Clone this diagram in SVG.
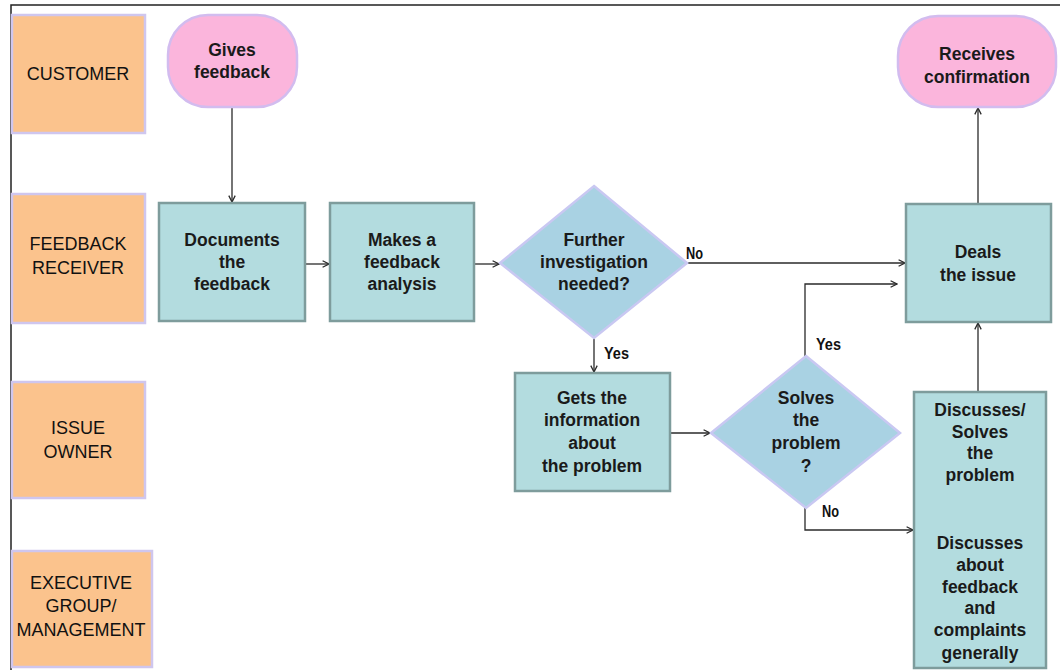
<svg xmlns="http://www.w3.org/2000/svg" width="1060" height="670" viewBox="0 0 1060 670">
  <style>
    .lane rect { fill: #fbc38d; stroke: #cfc6ee; stroke-width: 2.5; }
    .lane text { font-family: "Liberation Sans", Arial, sans-serif; font-size: 18px; fill: #111; text-anchor: middle; }
    .term rect { fill: #fbb5dc; stroke: #d2bcef; stroke-width: 2.5; }
    .proc rect { fill: #b3dcdf; stroke: #7e9c9c; stroke-width: 2.5; }
    .dec polygon { fill: #a9d2e3; stroke: #c9c8f2; stroke-width: 2.5; }
    .node text { font-family: "Liberation Sans", Arial, sans-serif; font-size: 17.5px; font-weight: bold; fill: #1a1a1a; text-anchor: middle; }
    .conn path { fill: none; stroke: #2a2a2a; stroke-width: 1.3; }
    .lbl { font-family: "Liberation Sans", Arial, sans-serif; font-size: 16px; font-weight: bold; fill: #111; }
  </style>
  <defs>
    <marker id="arr" viewBox="0 0 10 10" refX="9" refY="5" markerWidth="8" markerHeight="8" markerUnits="userSpaceOnUse" orient="auto">
      <path d="M1,1 L9,5 L1,9" fill="none" stroke="#2a2a2a" stroke-width="1.6"/>
    </marker>
  </defs>

  <rect width="1060" height="670" fill="#ffffff"/>
  <!-- page frame: top and left rules only -->
  <path d="M11,670 V5 H1060" fill="none" stroke="#222" stroke-width="1.5"/>

  <!-- swimlane headers -->
  <g id="lane-customer" class="lane">
    <rect x="12" y="15" width="133" height="118"/>
    <text x="78" y="80">CUSTOMER</text>
  </g>
  <g id="lane-feedback-receiver" class="lane">
    <rect x="12" y="194" width="133" height="129"/>
    <text x="78" y="250">FEEDBACK</text>
    <text x="78" y="274">RECEIVER</text>
  </g>
  <g id="lane-issue-owner" class="lane">
    <rect x="12" y="382" width="133" height="116"/>
    <text x="78" y="434">ISSUE</text>
    <text x="78" y="458">OWNER</text>
  </g>
  <g id="lane-executive" class="lane">
    <rect x="12" y="551" width="140" height="116"/>
    <text x="81" y="589">EXECUTIVE</text>
    <text x="81" y="612">GROUP/</text>
    <text x="81" y="636">MANAGEMENT</text>
  </g>

  <!-- connectors -->
  <g id="connectors" class="conn">
    <path d="M232,107 V202" marker-end="url(#arr)"/>
    <path d="M306,264 H329" marker-end="url(#arr)"/>
    <path d="M475,264 H499" marker-end="url(#arr)"/>
    <path d="M687,263 H905" marker-end="url(#arr)"/>
    <path d="M594,338 V372" marker-end="url(#arr)"/>
    <path d="M670,433 H710" marker-end="url(#arr)"/>
    <path d="M805,356 V284 H897" marker-end="url(#arr)"/>
    <path d="M805,508 V530 H913" marker-end="url(#arr)"/>
    <path d="M978,392 V323" marker-end="url(#arr)"/>
    <path d="M978,203 V108" marker-end="url(#arr)"/>
  </g>

  <!-- connector labels (condensed) -->
  <text class="lbl" x="686" y="259" textLength="17" lengthAdjust="spacingAndGlyphs">No</text>
  <text class="lbl" x="604" y="359" textLength="25" lengthAdjust="spacingAndGlyphs">Yes</text>
  <text class="lbl" x="816" y="350" textLength="25" lengthAdjust="spacingAndGlyphs">Yes</text>
  <text class="lbl" x="822" y="517" textLength="17" lengthAdjust="spacingAndGlyphs">No</text>

  <!-- nodes -->
  <g id="gives-feedback" class="node term">
    <rect x="168" y="15" width="129" height="92" rx="40" ry="40"/>
    <text x="232" y="56">Gives</text>
    <text x="232" y="78">feedback</text>
  </g>

  <g id="documents-feedback" class="node proc">
    <rect x="159" y="203" width="146" height="118"/>
    <text x="232" y="246">Documents</text>
    <text x="232" y="268">the</text>
    <text x="232" y="290">feedback</text>
  </g>

  <g id="feedback-analysis" class="node proc">
    <rect x="330" y="203" width="144" height="118"/>
    <text x="402" y="246">Makes a</text>
    <text x="402" y="268">feedback</text>
    <text x="402" y="290">analysis</text>
  </g>

  <g id="further-investigation" class="node dec">
    <polygon points="594,186 687,263 594,338 500,263"/>
    <text x="594" y="246">Further</text>
    <text x="594" y="268">investigation</text>
    <text x="594" y="290">needed?</text>
  </g>

  <g id="deals-issue" class="node proc">
    <rect x="906" y="204" width="145" height="118"/>
    <text x="978" y="258">Deals</text>
    <text x="978" y="281">the issue</text>
  </g>

  <g id="receives-confirmation" class="node term">
    <rect x="898" y="16" width="158" height="91" rx="40" ry="40"/>
    <text x="977" y="60">Receives</text>
    <text x="977" y="83">confirmation</text>
  </g>

  <g id="gets-information" class="node proc">
    <rect x="515" y="373" width="155" height="118"/>
    <text x="592" y="404">Gets the</text>
    <text x="592" y="426">information</text>
    <text x="592" y="449">about</text>
    <text x="592" y="472">the problem</text>
  </g>

  <g id="solves-problem" class="node dec">
    <polygon points="806,356 900,433 806,508 711,433"/>
    <text x="806" y="404">Solves</text>
    <text x="806" y="426">the</text>
    <text x="806" y="449">problem</text>
    <text x="806" y="472">?</text>
  </g>

  <g id="discusses-solves" class="node proc">
    <rect x="914" y="392" width="132" height="276"/>
    <text x="980" y="416">Discusses/</text>
    <text x="980" y="438">Solves</text>
    <text x="980" y="459">the</text>
    <text x="980" y="481">problem</text>
    <text x="980" y="549">Discusses</text>
    <text x="980" y="571">about</text>
    <text x="980" y="593">feedback</text>
    <text x="980" y="614">and</text>
    <text x="980" y="636">complaints</text>
    <text x="980" y="659">generally</text>
  </g>
</svg>
